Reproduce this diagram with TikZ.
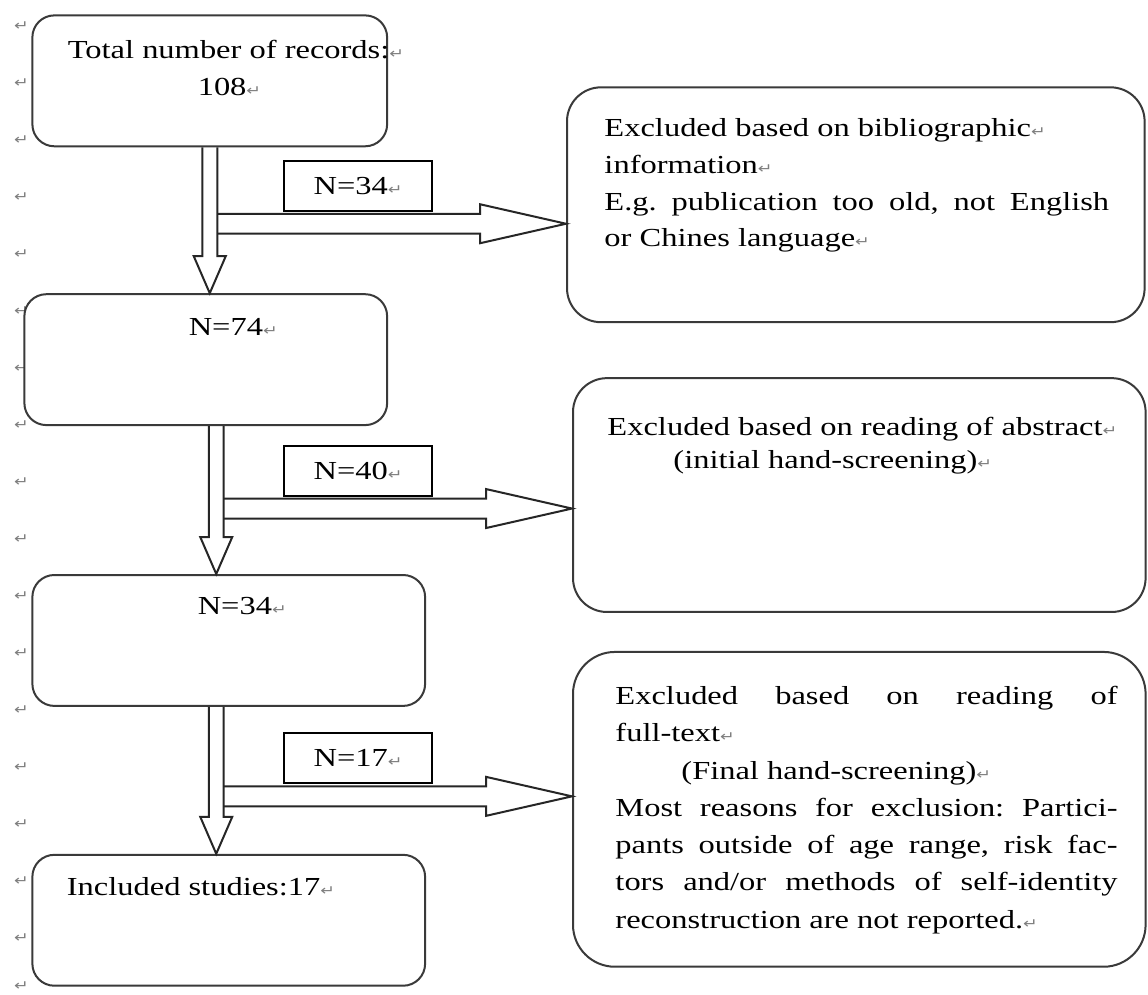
\documentclass[tikz,border=0pt]{standalone}
\usepackage{fontspec}
\setmainfont{Liberation Serif}
\newfontfamily\markfont{DejaVu Sans}
\usepackage{graphicx}
\usepackage{tikz}
\usetikzlibrary{calc}
\usepackage{xcolor}
\definecolor{markgray}{HTML}{7F7F7F}
\definecolor{boxgray}{HTML}{3A3A3A}
\tolerance=10000
\hbadness=10000
\frenchspacing
\newcommand{\pmark}{{\markfont\fontsize{7}{7}\selectfont\color{markgray}↵}}
\newcommand{\sx}[1]{\scalebox{1.25}[1]{#1}}
% hollow block arrows (pixel units)
\newcommand{\downblock}[2]{\draw[blockline] ($(#1)+(-7.5,0)$) -- ($(#2)+(-7.5,-37)$) -- ($(#2)+(-16,-37)$) -- (#2) -- ($(#2)+(16,-37)$) -- ($(#2)+(7.5,-37)$) -- ($(#1)+(7.5,0)$);}
\newcommand{\rightblock}[2]{\draw[blockline] ($(#1)+(0,-10)$) -- ($(#2)+(-86,-10)$) -- ($(#2)+(-86,-19.5)$) -- (#2) -- ($(#2)+(-86,19.5)$) -- ($(#2)+(-86,10)$) -- ($(#1)+(0,10)$);}
\tikzset{
  stagebox/.style={draw=boxgray, line width=1pt, rounded corners=11pt, inner sep=0pt, fill=white},
  exclbox/.style={stagebox, rounded corners=17pt},
  countbox/.style={draw=black, line width=0.9pt, inner sep=0pt, minimum width=74pt, minimum height=25pt, fill=white},
  blockline/.style={draw=black!85, line width=1pt, line join=miter},
  txt/.style={inner sep=0pt, xscale=1.25, font=\fontsize{13}{18.5}\selectfont},
}
\begin{document}
\begin{tikzpicture}[scale=1.000000,x=0.5pt,y=-0.5pt]
\filldraw[color=white] (0.000000, 0.000000) rectangle (1148.000000, 994.000000);
\useasboundingbox (0.000000, 0.000000) rectangle (1148.000000, 994.000000);
% Drawing paragraph marks in the margin
\node[txt] (m1) at (21.000000, 26.000000) {\pmark};
\node[txt] (m2) at (21.000000, 83.000000) {\pmark};
\node[txt] (m3) at (21.000000, 140.000000) {\pmark};
\node[txt] (m4) at (21.000000, 197.000000) {\pmark};
\node[txt] (m5) at (21.000000, 254.000000) {\pmark};
\node[txt] (m6) at (21.000000, 311.000000) {\pmark};
\node[txt] (m7) at (21.000000, 368.000000) {\pmark};
\node[txt] (m8) at (21.000000, 425.000000) {\pmark};
\node[txt] (m9) at (21.000000, 482.000000) {\pmark};
\node[txt] (m10) at (21.000000, 539.000000) {\pmark};
\node[txt] (m11) at (21.000000, 596.000000) {\pmark};
\node[txt] (m12) at (21.000000, 653.000000) {\pmark};
\node[txt] (m13) at (21.000000, 710.000000) {\pmark};
\node[txt] (m14) at (21.000000, 767.000000) {\pmark};
\node[txt] (m15) at (21.000000, 824.000000) {\pmark};
\node[txt] (m16) at (21.000000, 881.000000) {\pmark};
\node[txt] (m17) at (21.000000, 938.000000) {\pmark};
\node[txt] (m18) at (21.000000, 986.000000) {\pmark};
% Drawing stage boxes
\node[stagebox, minimum width=177.5pt, minimum height=65.5pt] (rec) at (209.500000, 80.500000) {};
\node[stagebox, minimum width=181.5pt, minimum height=65.5pt] (n74) at (205.500000, 359.500000) {};
\node[stagebox, minimum width=196.5pt, minimum height=65.5pt] (n34) at (228.500000, 640.500000) {};
\node[stagebox, minimum width=196.5pt, minimum height=65.5pt] (incl) at (228.500000, 920.500000) {};
% Drawing exclusion boxes
\node[exclbox, minimum width=289pt, minimum height=117.5pt] (exbib) at (856.000000, 204.500000) {};
\node[exclbox, minimum width=286.5pt, minimum height=117pt] (exabs) at (859.500000, 495.000000) {};
\node[exclbox, rounded corners=21pt, minimum width=286.5pt, minimum height=157.5pt] (exfull) at (859.500000, 809.500000) {};
% Done with boxes
% Drawing arrows
\coordinate (v1top) at (rec.south);
\coordinate (v1tip) at (n74.north -| v1top);
\downblock{v1top}{v1tip}
\coordinate (h1) at ($(v1top)+(7.500000,76.500000)$);
\coordinate (h1tip) at (exbib.west |- h1);
\rightblock{h1}{h1tip}
\coordinate (v2top) at ($(n74.south)+(10.500000,0)$);
\coordinate (v2tip) at (n34.north -| v2top);
\downblock{v2top}{v2tip}
\coordinate (h2) at ($(v2top)+(7.500000,82.500000)$);
\coordinate (h2tip) at (exabs.west |- h2);
\rightblock{h2}{h2tip}
\coordinate (v3top) at ($(n34.south)+(-12.500000,0)$);
\coordinate (v3tip) at (incl.north -| v3top);
\downblock{v3top}{v3tip}
\coordinate (h3) at ($(v3top)+(7.500000,89.500000)$);
\coordinate (h3tip) at (exfull.west |- h3);
\rightblock{h3}{h3tip}
% Done with arrows
% Drawing count labels
\node[countbox] (l34) at (358.000000, 186.000000) {\sx{\fontsize{13}{15}\selectfont N=34\pmark}};
\node[countbox] (l40) at (358.000000, 471.000000) {\sx{\fontsize{13}{15}\selectfont N=40\pmark}};
\node[countbox] (l17) at (358.000000, 758.000000) {\sx{\fontsize{13}{15}\selectfont N=17\pmark}};
% Drawing texts
\node[txt, anchor=north west, align=left] (rectxt) at (67.000000, 39.000000) {Total number of records:\pmark\\\hspace*{52pt}108\pmark};
\node[txt, anchor=base west] (n74txt) at (188.000000, 335.000000) {N=74\pmark};
\node[txt, anchor=base west] (n34txt) at (197.000000, 615.000000) {N=34\pmark};
\node[txt, anchor=base west] (incltxt) at (66.000000, 896.000000) {Included studies:17\pmark};
\node[txt, anchor=north west, text width=202pt, align=justify, font=\fontsize{13}{18.35}\selectfont] (bibtxt) at (604.000000, 118.000000) {Excluded based on bibliographic\pmark\\ information\pmark\\ E.g. publication too old, not English\linebreak or Chines language\pmark};
\node[txt, anchor=north west, align=left, font=\fontsize{13}{16.5}\selectfont] (abstxt) at (607.000000, 417.000000) {Excluded based on reading of abstract\pmark\\\hspace*{26.4pt}(initial hand-screening)\pmark};
\node[txt, anchor=north west, text width=201pt, align=justify, font=\fontsize{13}{18.65}\selectfont] (fulltxt) at (615.000000, 686.000000) {Excluded based on reading of\linebreak full-text\pmark\\ \hspace*{26.4pt}(Final hand-screening)\pmark\\ Most reasons for exclusion: Partici-\linebreak pants outside of age range, risk fac-\linebreak tors and/or methods of self-identity\linebreak reconstruction are not reported.\pmark};
% Done with texts
\end{tikzpicture}
\end{document}
